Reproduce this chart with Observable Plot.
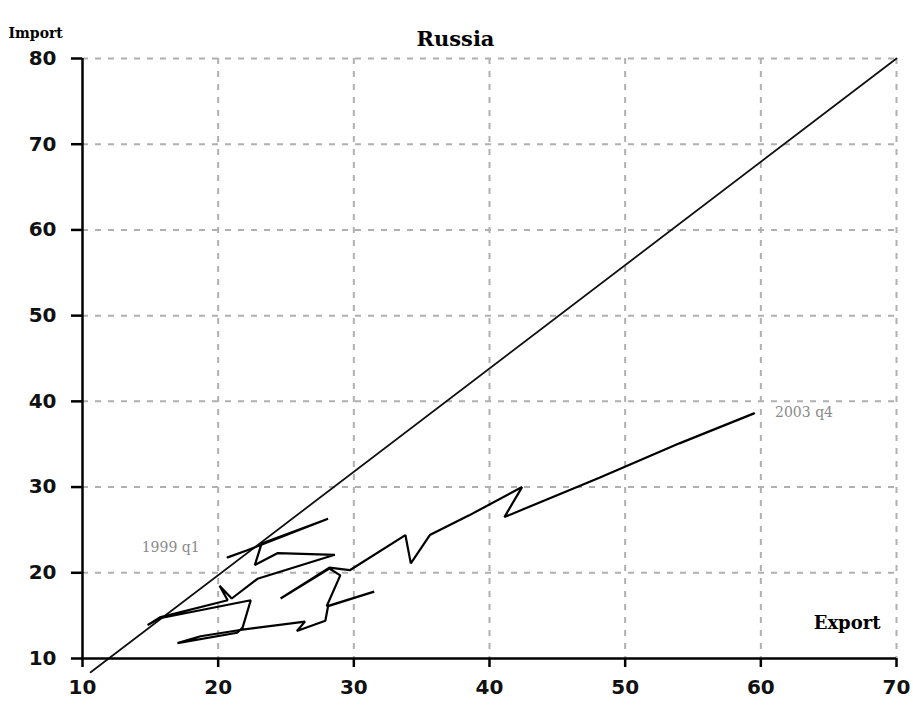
<!DOCTYPE html>
<html>
<head>
<meta charset="utf-8">
<script src="https://cdn.jsdelivr.net/npm/d3@7"></script>
<script src="https://cdn.jsdelivr.net/npm/@observablehq/plot@0.6"></script>
<style>
  html, body { margin: 0; padding: 0; background: #fff; }
</style>
</head>
<body>
<div id="chart"></div>
<script>
// Tick values
const xTicks = [10, 20, 30, 40, 50, 60, 70];
const yTicks = [10, 20, 30, 40, 50, 60, 70, 80];

// Reference (diagonal) line endpoints
const diagExport = [10.6, 70];
const diagImport = [8.4, 80];

// Russia trajectory, 1999 q1 -> 2003 q4
const exportVals = [20.7, 22.1, 28.1, 23.2, 22.7, 24.4, 28.6, 22.9, 21.0, 20.1, 20.7, 15.7, 14.8, 15.7,
  22.4, 21.8, 21.4, 17.0, 18.7, 21.5, 26.4, 25.8, 27.9, 28.1, 31.5, 28.0, 29.0, 28.2, 24.6, 28.2,
  29.7, 33.8, 34.2, 35.6, 38.5, 42.4, 41.1, 48.1, 54.0, 59.5];
const importVals = [21.8, 22.6, 26.3, 23.4, 20.9, 22.3, 22.1, 19.3, 17.0, 18.5, 16.8, 14.8, 13.9, 14.7,
  16.8, 13.6, 13.0, 11.8, 12.6, 13.3, 14.3, 13.2, 14.4, 16.1, 17.8, 16.1, 19.7, 20.5, 17.0, 20.6,
  20.3, 24.4, 21.1, 24.4, 26.7, 30.0, 26.5, 31.1, 35.1, 38.6];

const labels = ["1999 q1", "2003 q4"];

const diag = diagExport.map((x, i) => ({x, y: diagImport[i]}));
const path = exportVals.map((x, i) => ({x, y: importVals[i]}));
const startPt = [{x: exportVals[0], y: importVals[0], t: labels[0]}];
const endPt = [{x: exportVals[exportVals.length - 1], y: importVals[importVals.length - 1], t: labels[1]}];

const tickFont = "DejaVu Sans, sans-serif";
const serif = "DejaVu Serif, serif";

const chart = Plot.plot({
  width: 913,
  height: 718,
  marginLeft: 82,
  marginRight: 17,
  marginTop: 58,
  marginBottom: 60,
  style: {background: "#fff", color: "#000", overflow: "visible"},
  x: {domain: [10, 70], label: null},
  y: {domain: [10, 80], label: null},
  marks: [
    Plot.gridX(xTicks.slice(1), {stroke: "#b0b0b0", strokeOpacity: 1, strokeWidth: 2, strokeDasharray: "6,7"}),
    Plot.gridY(yTicks.slice(1), {stroke: "#b0b0b0", strokeOpacity: 1, strokeWidth: 2, strokeDasharray: "6,7"}),
    Plot.line(diag, {x: "x", y: "y", stroke: "#111", strokeWidth: 1.8}),
    Plot.line(path, {x: "x", y: "y", stroke: "#000", strokeWidth: 2.2, strokeLinejoin: "miter"}),
    Plot.ruleX([10], {stroke: "#000", strokeWidth: 2.5}),
    Plot.ruleY([10], {stroke: "#000", strokeWidth: 2.5}),
    Plot.axisX({ticks: xTicks, tickSize: 9, tickPadding: 12, strokeWidth: 2.5,
      fontSize: 20, fontWeight: "bold", fontFamily: tickFont, fill: "#111"}),
    Plot.axisY({ticks: yTicks, tickSize: 11, tickPadding: 15, strokeWidth: 2.5,
      fontSize: 20, fontWeight: "bold", fontFamily: tickFont, fill: "#111"}),
    Plot.text(startPt, {x: "x", y: "y", text: "t", textAnchor: "end", dx: -28, dy: -10,
      fill: "#8a8a8a", fontSize: 14, fontFamily: serif}),
    Plot.text(endPt, {x: "x", y: "y", text: "t", textAnchor: "start", dx: 21, dy: -1,
      fill: "#8a8a8a", fontSize: 14, fontFamily: serif}),
    Plot.text(["Russia"], {frameAnchor: "top-left", dx: 373, dy: -27, textAnchor: "middle",
      fontSize: 21, fontWeight: "bold", fontFamily: serif, fill: "#000"}),
    Plot.text(["Import"], {frameAnchor: "top-left", dx: -74, dy: -30, textAnchor: "start",
      fontSize: 14, fontWeight: "bold", fontFamily: serif, fill: "#000"}),
    Plot.text(["Export"], {frameAnchor: "bottom-right", dx: -16, dy: -30, textAnchor: "end",
      fontSize: 18, fontWeight: "bold", fontFamily: serif, fill: "#000"})
  ]
});
document.getElementById("chart").appendChild(chart);
</script>
</body>
</html>
